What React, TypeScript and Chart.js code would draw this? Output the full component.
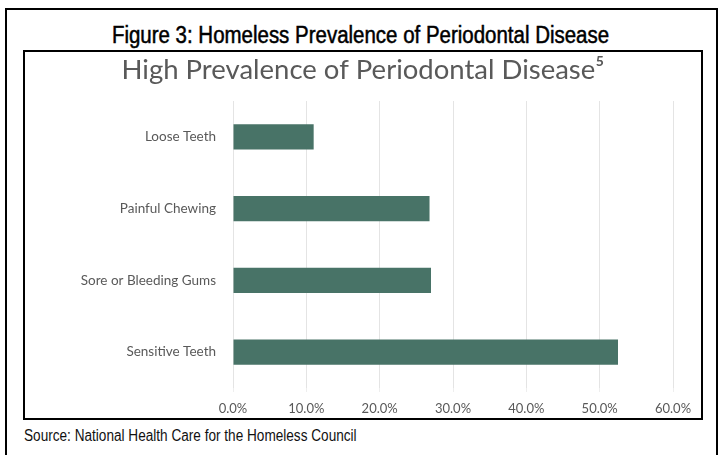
import React, { useEffect, useRef } from "react";
import { Chart, registerables } from "chart.js";

Chart.register(...registerables);

const categories = ["Loose Teeth", "Painful Chewing", "Sore or Bleeding Gums", "Sensitive Teeth"];
const values = [11.0, 26.8, 27.0, 52.5];
const tickValues = [0, 10, 20, 30, 40, 50, 60];

const figureTitle = "Figure 3: Homeless Prevalence of Periodontal Disease";
const chartTitle = "High Prevalence of Periodontal Disease\u2075";
const sourceText = "Source: National Health Care for the Homeless Council";

export default function App() {
  const ref = useRef<HTMLCanvasElement | null>(null);

  useEffect(() => {
    if (!ref.current) return;
    const chart = new Chart(ref.current, {
      type: "bar",
      data: {
        labels: categories,
        datasets: [
          {
            data: values,
            backgroundColor: "#487367",
            borderWidth: 0,
            barPercentage: 0.35,
            categoryPercentage: 1,
          },
        ],
      },
      options: {
        indexAxis: "y",
        animation: false,
        responsive: false,
        maintainAspectRatio: false,
        layout: { padding: { left: 28, right: 28, top: 0, bottom: 0 } },
        plugins: {
          legend: { display: false },
          tooltip: { enabled: false },
          title: {
            display: true,
            text: chartTitle,
            color: "#595959",
            font: { family: "Lato", size: 27.5, weight: "normal" },
            padding: { top: 2, bottom: 14 },
          },
        },
        scales: {
          x: {
            min: 0,
            max: 60,
            afterBuildTicks: (scale: any) => {
              scale.ticks = tickValues.map((v) => ({ value: v }));
            },
            afterFit: (scale: any) => {
              scale.height = 30;
            },
            grid: { color: "#e4e4e4", drawTicks: true, tickLength: 4, tickColor: "#eeeeee" },
            border: { display: false },
            ticks: {
              padding: 9,
              color: "#595959",
              font: { family: "Lato", size: 13 },
              callback: (v: any) => Number(v).toFixed(1) + "%",
            },
          },
          y: {
            afterFit: (scale: any) => {
              scale.width = 180;
            },
            grid: { display: false, drawTicks: false },
            border: { display: false },
            ticks: {
              padding: 17,
              color: "#595959",
              font: { family: "Lato", size: 13.5 },
            },
          },
        },
      },
    });
    return () => chart.destroy();
  }, []);

  return (
    <div style={{ position: "fixed", left: 0, top: 0, width: 718, height: 455, background: "#fff", overflow: "hidden" }}>
      <div
        style={{
          position: "absolute",
          left: 5,
          top: 8,
          width: 709,
          height: 460,
          border: "2px solid #000",
        }}
      />
      <div
        style={{
          position: "absolute",
          left: 5,
          top: 22,
          width: 711,
          textAlign: "center",
          fontFamily: "'Liberation Sans', Arial, sans-serif",
          fontWeight: "normal",
          fontSize: 23,
          lineHeight: "26px",
          color: "#000",
          WebkitTextStroke: "0.5px #000",
          transform: "scaleX(0.89)",
          transformOrigin: "center",
        }}
      >
        {figureTitle}
      </div>
      <div
        style={{
          position: "absolute",
          left: 23,
          top: 50,
          width: 676,
          height: 366,
          border: "2px solid #000",
        }}
      >
        <canvas ref={ref} width={676} height={366} style={{ display: "block" }} />
      </div>
      <div
        style={{
          position: "absolute",
          left: 24,
          top: 427,
          fontFamily: "'Liberation Sans', Arial, sans-serif",
          fontSize: 16,
          lineHeight: "18px",
          color: "#111",
          transform: "scaleX(0.85)",
          transformOrigin: "left",
        }}
      >
        {sourceText}
      </div>
    </div>
  );
}
